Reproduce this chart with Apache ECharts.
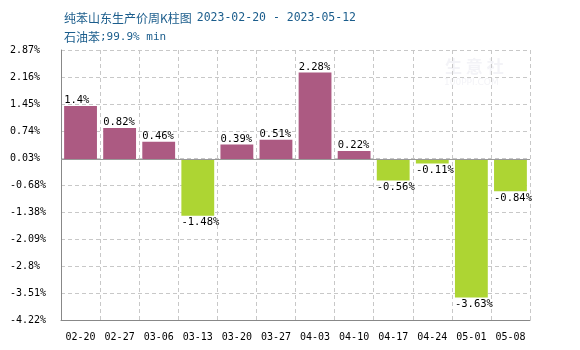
<!DOCTYPE html>
<html>
<head>
<meta charset="utf-8">
<script src="https://cdn.jsdelivr.net/npm/echarts@6/dist/echarts.min.js"></script>
<style>html,body{margin:0;padding:0;background:#fff;}#c{width:580px;height:350px;}</style>
</head>
<body>
<div id="c"></div>
<script>
const categories = ['02-20','02-27','03-06','03-13','03-20','03-27','04-03','04-10','04-17','04-24','05-01','05-08'];
const values = [1.4, 0.82, 0.46, -1.48, 0.39, 0.51, 2.28, 0.22, -0.56, -0.11, -3.63, -0.84];
const yTickLabels = ['-4.22','-3.51','-2.8','-2.09','-1.38','-0.68','0.03','0.74','1.45','2.16','2.87'];
const yMin = -4.22;
const yMax = 2.87;

const interval = (yMax - yMin) / (yTickLabels.length - 1);
const mono = "DejaVu Sans Mono";
const cjk = "Noto Sans CJK SC";
const posColor = '#ac5a82';
const negColor = '#add533';
const titleColor = '#1b5d8c';

const chart = echarts.init(document.getElementById('c'), null, {renderer: 'canvas'});
chart.setOption({
  animation: false,
  backgroundColor: '#fff',
  title: {
    left: 59,
    top: 4,
    itemGap: 4,
    text: '{a|纯苯山东生产价周K柱图} {b|2023-02-20 - 2023-05-12}',
    textStyle: {
      fontWeight: 'normal',
      rich: {
        a: {fontFamily: cjk, fontSize: 12, fontWeight: 'normal', color: titleColor},
        b: {fontFamily: mono, fontSize: 11.5, fontWeight: 'normal', color: titleColor}
      }
    },
    subtext: '{a|石油苯}{b|;99.9% min}',
    subtextStyle: {
      rich: {
        a: {fontFamily: cjk, fontSize: 12, fontWeight: 'normal', color: titleColor},
        b: {fontFamily: mono, fontSize: 11, fontWeight: 'normal', color: titleColor}
      }
    }
  },
  graphic: [
    {type: 'text', left: 445, top: 58, style: {text: '生 意 社', font: "bold 17px 'Noto Sans CJK SC'", fill: '#f3f3f7'}},
    {type: 'text', left: 444, top: 78, style: {text: '100PPI.COM', font: "9px 'DejaVu Sans'", fill: '#f3f3f7'}}
  ],
  grid: {left: 61, right: 50, top: 50, bottom: 30},
  xAxis: {
    type: 'category',
    data: categories,
    boundaryGap: true,
    axisLine: {onZero: false, lineStyle: {color: '#888', width: 1}},
    axisTick: {show: false},
    axisLabel: {color: '#000', fontFamily: mono, fontSize: 10, margin: 12, interval: 0},
    splitLine: {show: true, interval: 0, lineStyle: {color: '#c8c8c8', type: [4, 3]}}
  },
  yAxis: {
    type: 'value',
    min: yMin,
    max: yMax,
    interval: interval,
    axisLine: {show: true, lineStyle: {color: '#888', width: 1}},
    axisTick: {show: false},
    axisLabel: {
      color: '#000', fontFamily: mono, fontSize: 10, margin: 51, align: 'left',
      formatter: function (v) {
        const i = Math.round((v - yMin) / interval);
        return (yTickLabels[i] !== undefined ? yTickLabels[i] : v.toFixed(2)) + '%';
      }
    },
    splitLine: {show: true, lineStyle: {color: '#c8c8c8', type: [4, 3]}}
  },
  series: [{
    type: 'bar',
    barWidth: '84%',
    data: values.map(v => ({
      value: v,
      itemStyle: {color: v >= 0 ? posColor : negColor},
      label: v >= 0 ? {position: [0, -11]} : {position: [0, '100%'], offset: [0, 1]}
    })),
    label: {
      show: true,
      color: '#000',
      fontFamily: mono,
      fontSize: 10.5,
      formatter: p => p.value + '%'
    },
    markLine: {
      silent: true,
      symbol: 'none',
      label: {show: false},
      lineStyle: {color: '#999', type: 'solid', width: 1},
      data: [{yAxis: 0}]
    }
  }]
});
</script>
</body>
</html>
